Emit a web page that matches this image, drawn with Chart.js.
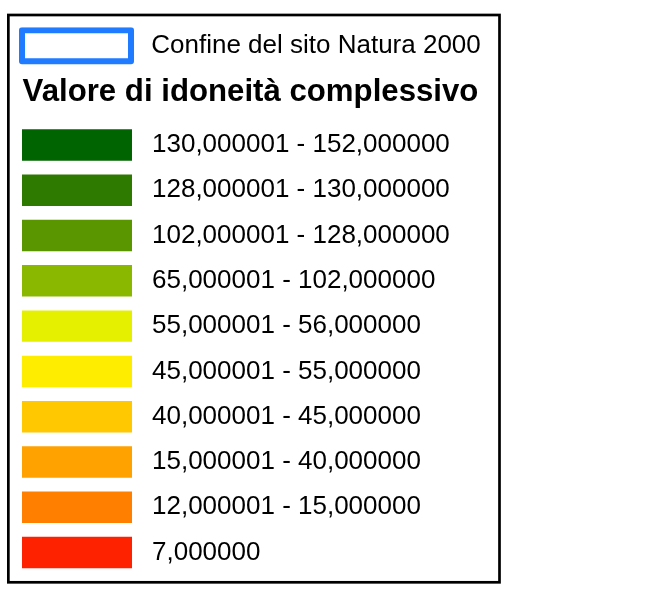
<!DOCTYPE html>
<html>
<head>
<meta charset="utf-8">
<script src="https://cdn.jsdelivr.net/npm/chart.js@4/dist/chart.umd.min.js"></script>
<style>
  html, body { margin: 0; padding: 0; background: #ffffff; }
  #wrap { width: 669px; height: 606px; }
</style>
</head>
<body>
<div id="wrap"><canvas id="c" width="669" height="606"></canvas></div>
<script>
// ---- data ----
const legendTitle = 'Valore di idoneità complessivo';
const boundaryLabel = ' Confine del sito Natura 2000';
const boundaryColor = '#1F7BFF';
const classLabels = [
  '130,000001 - 152,000000',
  '128,000001 - 130,000000',
  '102,000001 - 128,000000',
  '65,000001 - 102,000000',
  '55,000001 - 56,000000',
  '45,000001 - 55,000000',
  '40,000001 - 45,000000',
  '15,000001 - 40,000000',
  '12,000001 - 15,000000',
  '7,000000'
];
const classColors = [
  '#006400', '#2E7A00', '#5A9600', '#8AB800', '#E5F000',
  '#FFED00', '#FFC800', '#FFA200', '#FF8000', '#FF2200'
];
const swatchValues = [1, 1, 1, 1, 1, 1, 1, 1, 1, 1];

const FONT = '"Liberation Sans", Arial, Helvetica, sans-serif';

const framePlugin = {
  id: 'frame',
  beforeDraw(chart) {
    const ctx = chart.ctx;
    ctx.save();
    ctx.fillStyle = '#ffffff';
    ctx.fillRect(0, 0, chart.width, chart.height);
    ctx.strokeStyle = '#000000';
    ctx.lineWidth = 2.7;
    ctx.strokeRect(8.35, 15, 491.15, 567.3);
    ctx.restore();
  }
};

const classTextPlugin = {
  id: 'classText',
  afterDatasetsDraw(chart) {
    const ctx = chart.ctx;
    const meta = chart.getDatasetMeta(0);
    ctx.save();
    ctx.font = '26px ' + FONT;
    ctx.fillStyle = '#000000';
    ctx.textAlign = 'left';
    ctx.textBaseline = 'middle';
    meta.data.forEach((bar, i) => {
      ctx.fillText(classLabels[i], bar.x + 20, bar.y);
    });
    ctx.restore();
  }
};

new Chart(document.getElementById('c'), {
  type: 'bar',
  data: {
    labels: classLabels,
    datasets: [
      {
        label: 'classi',
        data: swatchValues,
        backgroundColor: classColors,
        borderWidth: 0,
        grouped: false,
        categoryPercentage: 0.695,
        barPercentage: 1
      },
      {
        label: boundaryLabel,
        data: [],
        backgroundColor: '#ffffff',
        borderColor: boundaryColor,
        borderWidth: 6,
        grouped: false
      }
    ]
  },
  options: {
    indexAxis: 'y',
    responsive: false,
    animation: false,
    devicePixelRatio: 1,
    layout: { padding: { top: 27.3, left: 19, right: 187, bottom: 30.85 } },
    scales: {
      x: { display: false, min: -0.02727, max: 4.1818, grid: { display: false } },
      y: { display: false, grid: { display: false } }
    },
    plugins: {
      tooltip: { enabled: false },
      legend: {
        display: true,
        position: 'top',
        align: 'start',
        weight: 3000,
        labels: {
          boxWidth: 109,
          boxHeight: 31,
          padding: 3,
          color: '#000000',
          font: { family: FONT, size: 26 },
          generateLabels: (chart) => {
            const ds = chart.data.datasets[1];
            return [{
              text: ds.label,
              datasetIndex: 1,
              fillStyle: ds.backgroundColor,
              strokeStyle: ds.borderColor,
              lineWidth: ds.borderWidth,
              lineJoin: 'round',
              fontColor: '#000000',
              hidden: false
            }];
          }
        }
      },
      title: {
        display: true,
        text: legendTitle,
        align: 'center',
        color: '#000000',
        font: { family: FONT, size: 31.2, weight: 'bold' },
        padding: { top: 2.4, bottom: 11.25 }
      }
    }
  },
  plugins: [framePlugin, classTextPlugin]
});
</script>
</body>
</html>
